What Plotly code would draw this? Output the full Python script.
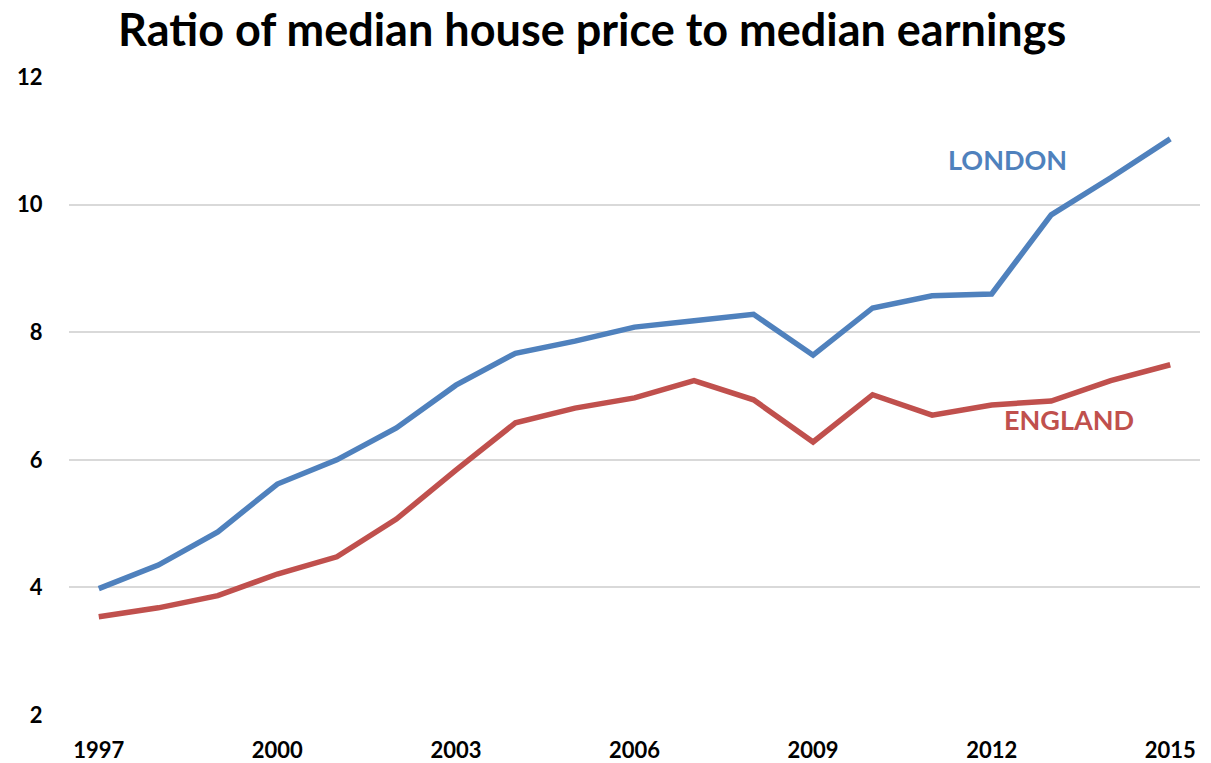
import plotly.graph_objects as go

years = list(range(1997, 2016))
london = [3.98, 4.35, 4.87, 5.62, 6.00, 6.50, 7.17, 7.67, 7.86, 8.08, 8.18, 8.28,
          7.64, 8.38, 8.57, 8.60, 9.84, 10.42, 11.03]
england = [3.54, 3.68, 3.87, 4.21, 4.48, 5.07, 5.84, 6.58, 6.81, 6.97, 7.24, 6.94,
           6.28, 7.02, 6.70, 6.86, 6.92, 7.24, 7.49]
x_ticks = [1997, 2000, 2003, 2006, 2009, 2012, 2015]
y_ticks = [2, 4, 6, 8, 10, 12]

BLUE = "#4F81BD"
RED = "#C0504D"
FONT = "Lato"

fig = go.Figure()
fig.add_trace(go.Scatter(x=years, y=london, mode="lines", name="LONDON",
                         line=dict(color=BLUE, width=5.5)))
fig.add_trace(go.Scatter(x=years, y=england, mode="lines", name="ENGLAND",
                         line=dict(color=RED, width=5.5)))

fig.add_annotation(x=2012.26, y=10.7, text="<b>LONDON</b>", showarrow=False,
                   font=dict(family=FONT, size=27, color=BLUE))
fig.add_annotation(x=2013.3, y=6.63, text="<b>ENGLAND</b>", showarrow=False,
                   font=dict(family=FONT, size=27, color=RED))

fig.update_layout(
    width=1211, height=763,
    margin=dict(l=69, r=11, t=77, b=48),
    paper_bgcolor="white", plot_bgcolor="white",
    showlegend=False,
    title=dict(text="<b>Ratio of median house price to median earnings</b>",
               x=0.489, xanchor="center", y=0.961, yanchor="middle",
               font=dict(family=FONT, size=45, color="black")),
    font=dict(family=FONT, color="black"),
)
fig.update_xaxes(range=[1996.5, 2015.5], tickvals=x_ticks,
                 ticktext=[f"<b>{v}</b>" for v in x_ticks],
                 showgrid=False, zeroline=False, showline=False, automargin=False,
                 ticks="outside", ticklen=16, tickcolor="rgba(0,0,0,0)",
                 tickfont=dict(family=FONT, size=22, color="black"))
fig.update_yaxes(range=[2, 12], tickvals=y_ticks,
                 ticktext=[f"<b>{v}</b>" for v in y_ticks],
                 showgrid=True, gridcolor="#D9D9D9", gridwidth=2,
                 zeroline=False, showline=False, automargin=False, ticks="outside",
                 ticklen=21, tickcolor="rgba(0,0,0,0)",
                 tickfont=dict(family=FONT, size=22, color="black"))

fig.write_html("out.html")
